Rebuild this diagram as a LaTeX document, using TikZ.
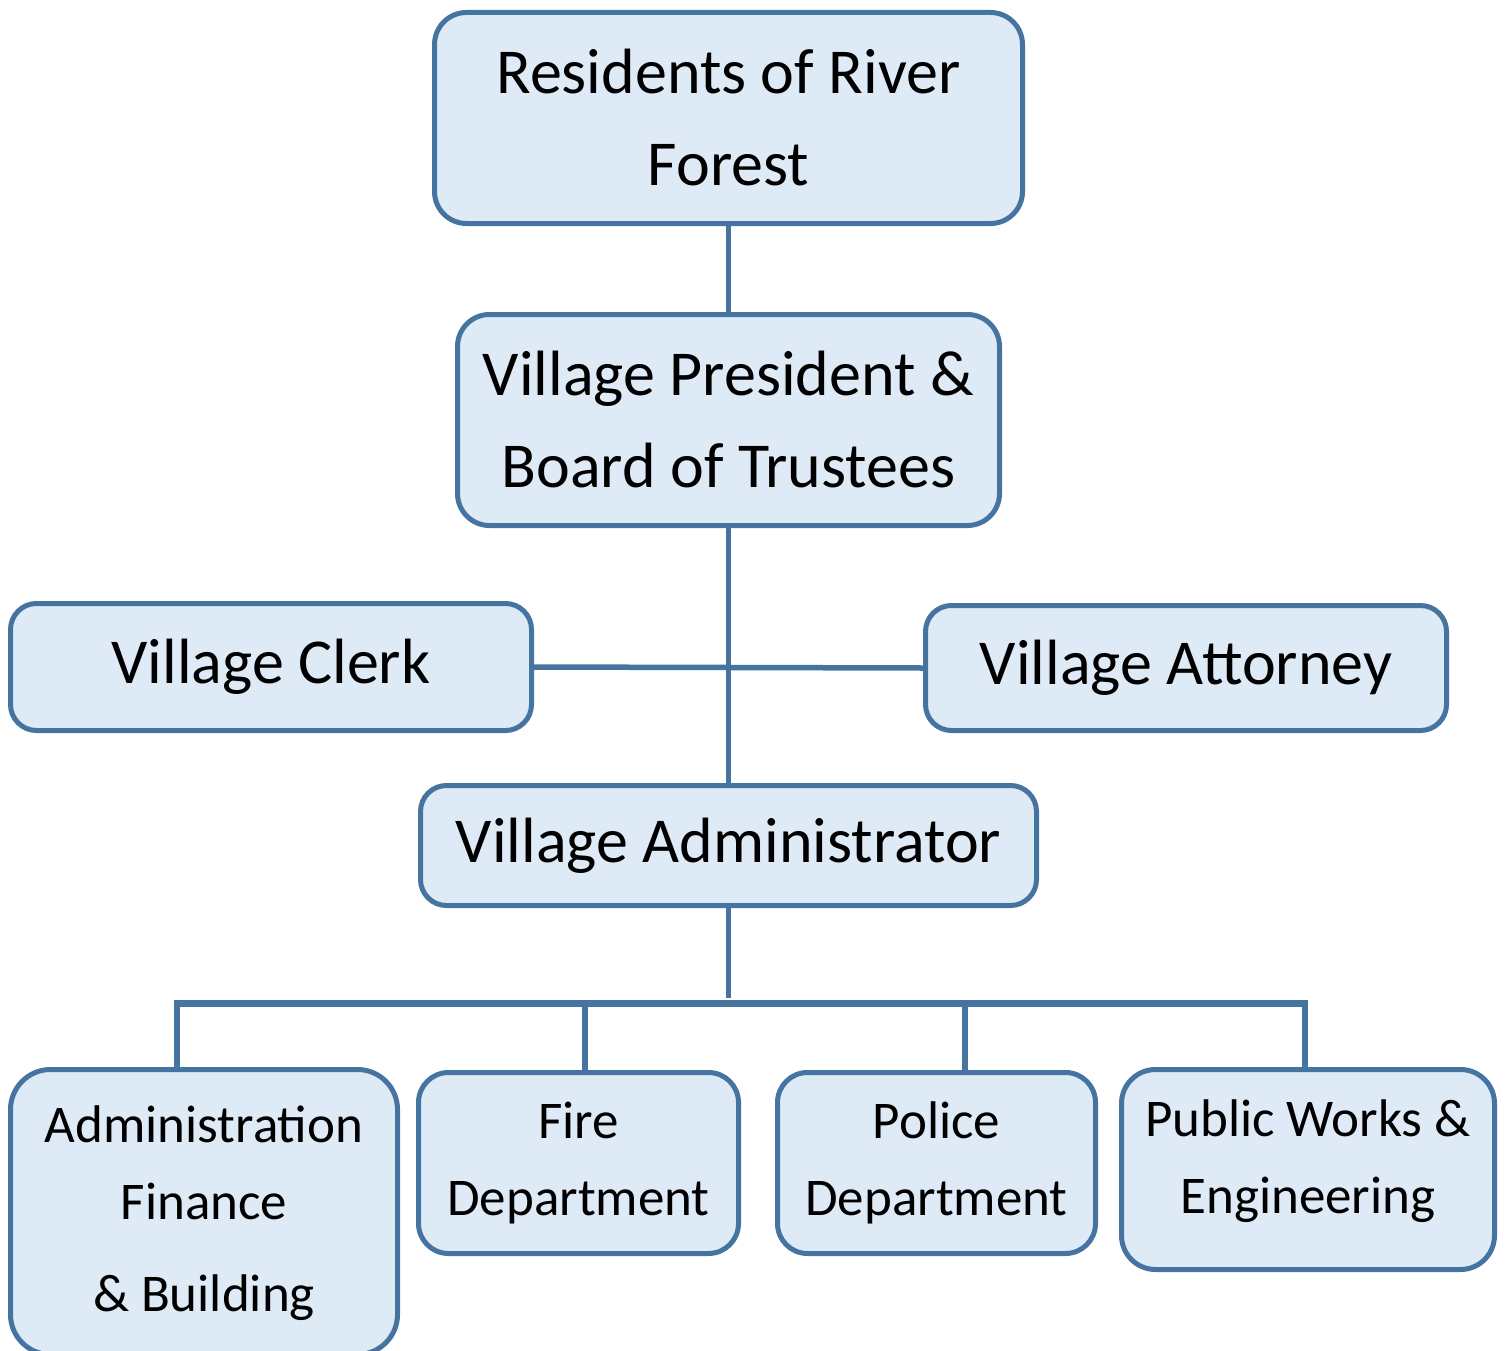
\documentclass[tikz,border=0pt]{standalone}
\usepackage{fontspec}
\setmainfont{Carlito}
\usetikzlibrary{calc}
\definecolor{boxline}{HTML}{4674A0}
\definecolor{boxfill}{HTML}{DEEAF6}
\begin{document}
\begin{tikzpicture}[x=1pt,y=-1pt,
  orgbox/.style={draw=boxline, fill=boxfill, line width=5pt, rounded corners=32pt, inner sep=0pt, align=center},
  bigtext/.style={font=\fontsize{64}{92}\selectfont},
  smalltext/.style={font=\fontsize{53}{77}\selectfont},
  link/.style={draw=boxline, line width=5.5pt},
  buslink/.style={draw=boxline, line width=7pt}]
\useasboundingbox (0,0) rectangle (1509,1351);
% boxes
\node[orgbox, bigtext, minimum width=588pt, minimum height=211pt] (res) at (728.5,118) {Residents of River\\Forest};
\node[orgbox, bigtext, minimum width=542pt, minimum height=211pt] (pres) at (728.5,420) {Village President \&\\Board of Trustees};
\node[orgbox, bigtext, minimum width=521pt, minimum height=127pt, rounded corners=26pt] (clerk) at (271,667) {Village Clerk};
\node[orgbox, bigtext, minimum width=521pt, minimum height=125pt, rounded corners=26pt] (atty) at (1186,668) {Village Attorney};
\node[orgbox, bigtext, minimum width=616pt, minimum height=120pt, rounded corners=26pt] (adm) at (728.5,845.5) {Village Administrator};
\node[orgbox, minimum width=387pt, minimum height=285pt, rounded corners=40pt] (fin) at (204,1212) {};
\node[smalltext, align=center] (fintext) at (204,1213) {Administration\\Finance\\[15pt]\& Building};
\node[orgbox, smalltext, minimum width=320pt, minimum height=181pt, rounded corners=30pt] (fire) at (578.5,1163) {Fire\\Department};
\node[orgbox, smalltext, minimum width=318pt, minimum height=181pt, rounded corners=30pt] (police) at (936.5,1163) {Police\\Department};
\node[orgbox, minimum width=373pt, minimum height=200pt, rounded corners=34pt] (pw) at (1308,1169.5) {};
\node[smalltext, align=center] (pwtext) at (1308,1161) {Public Works \&\\Engineering};
% connectors
\draw[link] (res.south) -- (pres.north);
\draw[link] (pres.south) -- (adm.north);
\draw[link] (clerk.east) -- (atty.west);
\coordinate (stem) at (728.5,998);
\draw[link] (adm.south) -- (stem);
\coordinate (busL) at (177,1003);
\coordinate (busR) at (1305,1003);
\coordinate (busF) at (585,1003);
\coordinate (busP) at (965,1003);
\draw[buslink] ($(busL)+(-2.75,0)$) -- ($(busR)+(2.75,0)$);
\draw[link] (busL) -- (busL |- fin.north);
\draw[link] (busF) -- (busF |- fire.north);
\draw[link] (busP) -- (busP |- police.north);
\draw[link] (busR) -- ($(busR |- pw.north)+(0,3)$);
\end{tikzpicture}
\end{document}
